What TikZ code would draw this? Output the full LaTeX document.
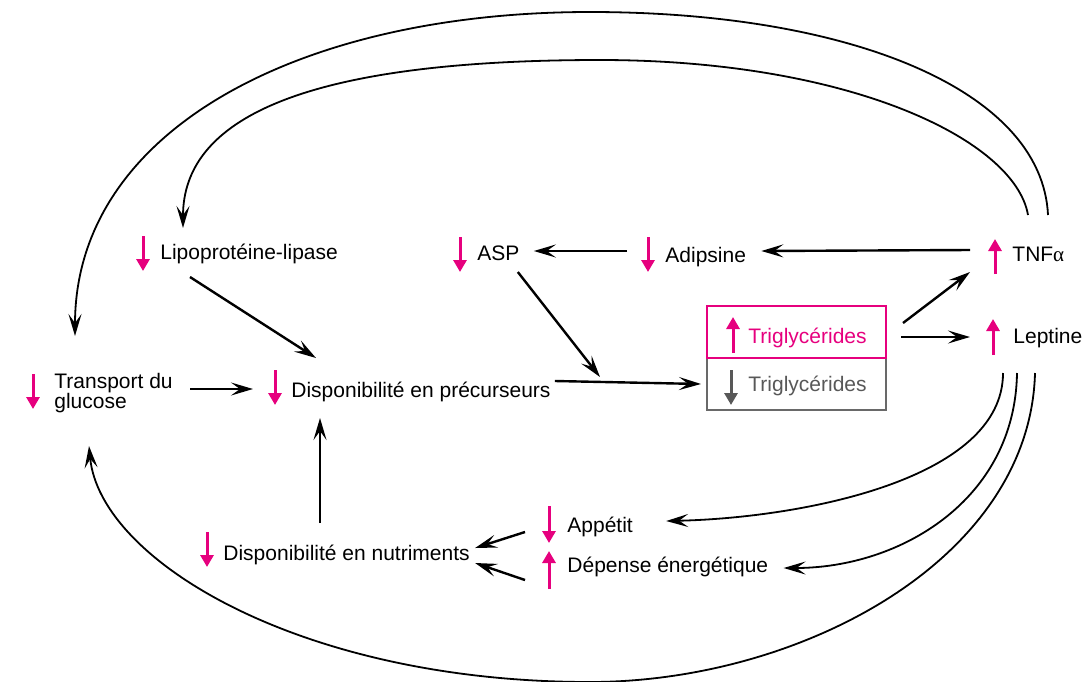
\documentclass[tikz,border=0pt]{standalone}
\usepackage{fontspec}
\setmainfont{Liberation Sans}
\newfontfamily\greekfont{Liberation Serif}
\usetikzlibrary{arrows.meta}
\definecolor{rosered}{RGB}{230,0,126}
\definecolor{darkgrey}{RGB}{88,88,88}
\tikzset{
  lbl/.style={anchor=base west, inner sep=0pt, font=\fontsize{10.5}{10}\selectfont},
  arr/.style={-{Stealth[length=11pt,width=6.5pt,inset=4.5pt]}, line width=1.2pt},
  curvearr/.style={arr, line width=0.9pt},
  pinkarr/.style={-{Triangle[length=6pt,width=6.5pt]}, line width=1.5pt, rosered},
}
\begin{document}
\begin{tikzpicture}[x=0.5pt,y=-0.5pt]
      \useasboundingbox (0,0) rectangle (1090,681);
      % triglyceride boxes
      \node[draw=darkgrey!90, line width=1pt, minimum width=89.5pt, minimum height=26pt, inner sep=0pt] (boxg) at (796.5,384) {};
      \node[draw=rosered, line width=1pt, minimum width=89.5pt, minimum height=26pt, inner sep=0pt] (boxp) at (796.5,332) {};
      % labels
      \node[lbl] (lpl) at (160,259) {Lipoprotéine-lipase};
      \node[lbl] (asp) at (477,260) {ASP};
      \node[lbl] (adi) at (665,262) {Adipsine};
      \node[lbl] (tnf) at (1012,261) {TNF{\greekfont α}};
      \node[lbl, rosered] (trp) at (748,343) {Triglycérides};
      \node[lbl, darkgrey] (trg) at (748,391) {Triglycérides};
      \node[lbl] (lep) at (1013,343) {Leptine};
      \node[lbl, anchor=west, align=left] (tg) at (54,393) {Transport du\\glucose};
      \node[lbl] (dpr) at (291,397) {Disponibilité en précurseurs};
      \node[lbl] (dnu) at (223,560) {Disponibilité en nutriments};
      \node[lbl] (app) at (567,532) {Appétit};
      \node[lbl] (dep) at (567,572) {Dépense énergétique};
      \coordinate (junc) at (600,377);
      % up and down marks
      \draw[pinkarr] ([shift={(-17,-23)}]lpl.base west) -- ++(0,35);
      \draw[pinkarr] ([shift={(-17,-23)}]asp.base west) -- ++(0,35);
      \draw[pinkarr] ([shift={(-17,-25)}]adi.base west) -- ++(0,35);
      \draw[pinkarr] ([shift={(-17,13)}]tnf.base west) -- ++(0,-35);
      \draw[pinkarr] ([shift={(-15,10)}]trp.base west) -- ++(0,-36);
      \draw[pinkarr, darkgrey] ([shift={(-17,-21)}]trg.base west) -- ++(0,35);
      \draw[pinkarr] ([shift={(-20,12)}]lep.base west) -- ++(0,-36);
      \draw[pinkarr] ([shift={(-21,-19)}]tg.west) -- ++(0,35);
      \draw[pinkarr] ([shift={(-16,-27)}]dpr.base west) -- ++(0,35);
      \draw[pinkarr] ([shift={(-16,-28)}]dnu.base west) -- ++(0,35);
      \draw[pinkarr] ([shift={(-18,-26)}]app.base west) -- ++(0,37);
      \draw[pinkarr] ([shift={(-18,17)}]dep.base west) -- ++(0,-38);
      % straight connectors
      \draw[arr] ([shift={(-42,-11)}]tnf.base west) -- ([shift={(15,-11)}]adi.base east);
      \draw[arr] ([shift={(-38,-11)}]adi.base west) -- ([shift={(14,-9)}]asp.base east);
      \draw[arr] ([shift={(-2,12)}]asp.base east) -- (junc);
      \draw[arr] ([shift={(4,-16)}]dpr.base east) -- ([xshift=-2.5pt]boxg.west);
      \draw[arr] ([shift={(30,18)}]lpl.base west) -- ([shift={(25,-39)}]dpr.base west);
      \draw[arr] ([shift={(17,-4)}]tg.east) -- ([shift={(-38,-8)}]dpr.base west);
      \draw[arr] ([shift={(97,-37)}]dnu.base west) -- ([shift={(29,21)}]dpr.base west);
      \draw[arr] ([shift={(-42,0)}]app.base west) -- ([shift={(5,-12)}]dnu.base east);
      \draw[arr] ([shift={(-42,8)}]dep.base west) -- ([shift={(5,3)}]dnu.base east);
      \draw[arr] ([shift={(16,-9)}]boxp.east) -- ([shift={(-42,11)}]tnf.base west);
      \draw[arr] ([shift={(14,5)}]boxp.east) -- ([shift={(-43,-6)}]lep.base west);
      % long curved connectors
      \draw[curvearr] ([shift={(36,-46)}]tnf.base west) .. controls (1042,90) and (850,12) .. (590,12)
        .. controls (300,12) and (75,130) .. ([shift={(21,-57)}]tg.west);
      \draw[curvearr] ([shift={(16,-46)}]tnf.base west) .. controls (1015,140) and (850,60) .. (600,60)
        .. controls (300,60) and (183,120) .. ([shift={(23,-31)}]lpl.base west);
      \draw[curvearr] ([shift={(-10,30)}]lep.base west) .. controls (1003,480) and (800,518) .. ([shift={(33,-11)}]app.base east);
      \draw[curvearr] ([shift={(4,30)}]lep.base west) .. controls (1015,500) and (900,568) .. ([shift={(15,-4)}]dep.base east);
      \draw[curvearr] ([shift={(22,30)}]lep.base west) .. controls (1030,560) and (800,682) .. (590,682)
        .. controls (300,682) and (100,560) .. ([shift={(35,53)}]tg.west);
    \end{tikzpicture}
\end{document}
